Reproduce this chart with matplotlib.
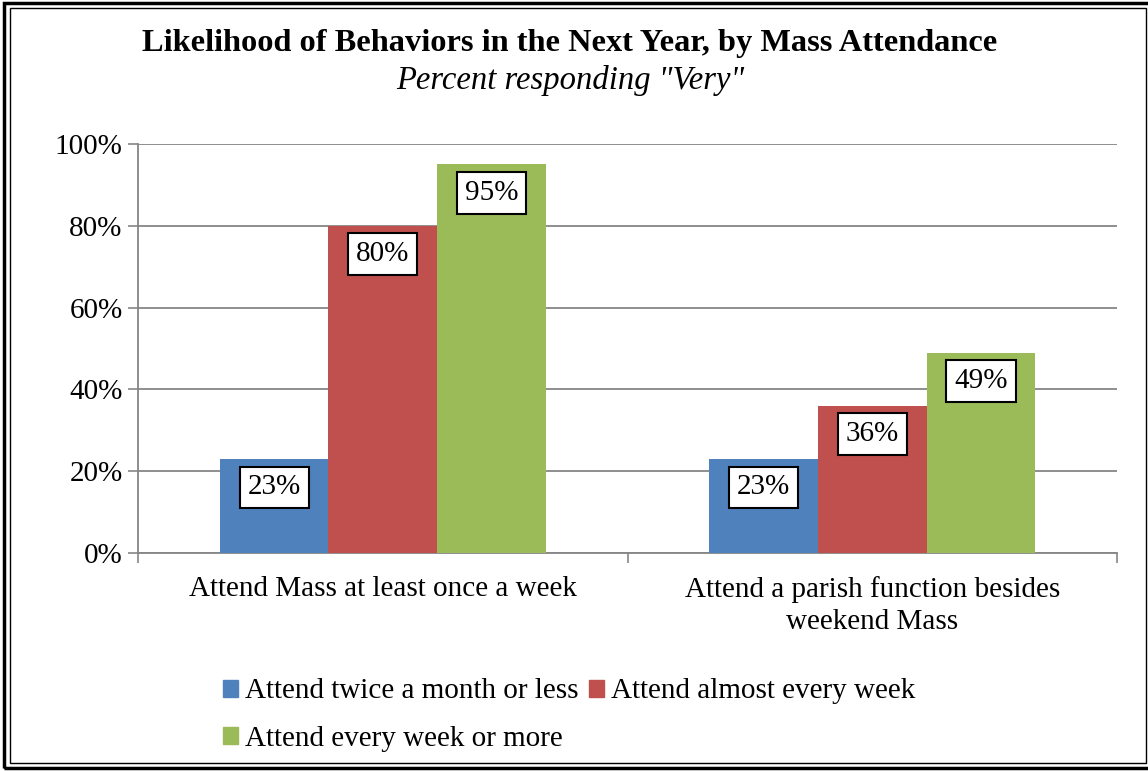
import matplotlib
matplotlib.use("Agg")
import matplotlib.pyplot as plt
from matplotlib.patches import Rectangle, Patch
import numpy as np

categories = ["Attend Mass at least once a week",
              "Attend a parish function besides\nweekend Mass"]
series_names = ["Attend twice a month or less",
                "Attend almost every week",
                "Attend every week or more"]
twice_month = [23, 23]
almost_weekly = [80, 36]
weekly_more = [95, 49]
colors = ["#4F81BD", "#C0504D", "#9BBB59"]
yticks = [0, 20, 40, 60, 80, 100]
ytick_labels = ["0%", "20%", "40%", "60%", "80%", "100%"]

plt.rcParams['font.family'] = ['Liberation Serif', 'DejaVu Serif']

W, H = 1148, 771
fig = plt.figure(figsize=(W / 100, H / 100), dpi=100)
ax = fig.add_axes([138 / W, 1 - 553 / H, (1117 - 138) / W, (553 - 144) / H])

values = [twice_month, almost_weekly, weekly_more]
x = np.arange(len(categories))
bw = 0.222
for i, (vals, col) in enumerate(zip(values, colors)):
    pos = x + (i - 1) * bw
    ax.bar(pos, vals, width=bw, color=col, zorder=3)
    for p, v in zip(pos, vals):
        ax.annotate(f"{v}%", xy=(p, v), xytext=(0, -20.5), textcoords="offset points",
                    ha="center", va="center", fontsize=21, zorder=5,
                    bbox=dict(boxstyle="square,pad=0.27", fc="white", ec="black", lw=1.5))

ax.set_xlim(-0.5, 1.5)
ax.set_ylim(0, 100)
ax.set_yticks(yticks)
ax.set_yticklabels(ytick_labels, fontsize=21)
ax.set_xticks([-0.5, 0.5, 1.5])
ax.set_xticklabels([])
ax.set_xticks(x, minor=True)
ax.set_xticklabels(categories, minor=True, fontsize=21, linespacing=1.3)
ax.tick_params(axis="x", which="minor", length=0, pad=16.5)
ax.tick_params(axis="x", which="major", length=7, color="#868686", width=1.2)
ax.tick_params(axis="y", length=7, color="#868686", width=1.2, pad=4)
ax.yaxis.grid(True, color="#868686", lw=1.3, zorder=0)
for s in ["top", "right"]:
    ax.spines[s].set_visible(False)
for s in ["left", "bottom"]:
    ax.spines[s].set_color("#868686")
    ax.spines[s].set_linewidth(1.3)

fig.text(570 / W, 1 - 44 / H, "Likelihood of Behaviors in the Next Year, by Mass Attendance",
         ha="center", va="center", fontsize=23.3, fontweight="bold")
fig.text(570 / W, 1 - 80.5 / H, 'Percent responding "Very"',
         ha="center", va="center", fontsize=23.5, style="italic")

handles = [Patch(color=c) for c in colors]
order = [0, 2, 1]
leg = fig.legend([handles[i] for i in order], [series_names[i] for i in order],
                 ncol=2, loc="center left", bbox_to_anchor=(223 / W, 1 - 715 / H),
                 frameon=False, fontsize=21, handlelength=0.52, handleheight=0.52,
                 handletextpad=0.24, columnspacing=0.34, labelspacing=0.72,
                 borderpad=0, borderaxespad=0)

# double border around the chart
fig.patches.append(Rectangle((4 / W, 3 / H), (W + 10) / W, (H - 6) / H, transform=fig.transFigure,
                             fill=False, ec="black", lw=2.5, clip_on=False))
fig.patches.append(Rectangle((10 / W, 8 / H), (1146 - 10) / W, (H - 16) / H, transform=fig.transFigure,
                             fill=False, ec="black", lw=1.0, clip_on=False))

fig.savefig("out.png", dpi=100)
